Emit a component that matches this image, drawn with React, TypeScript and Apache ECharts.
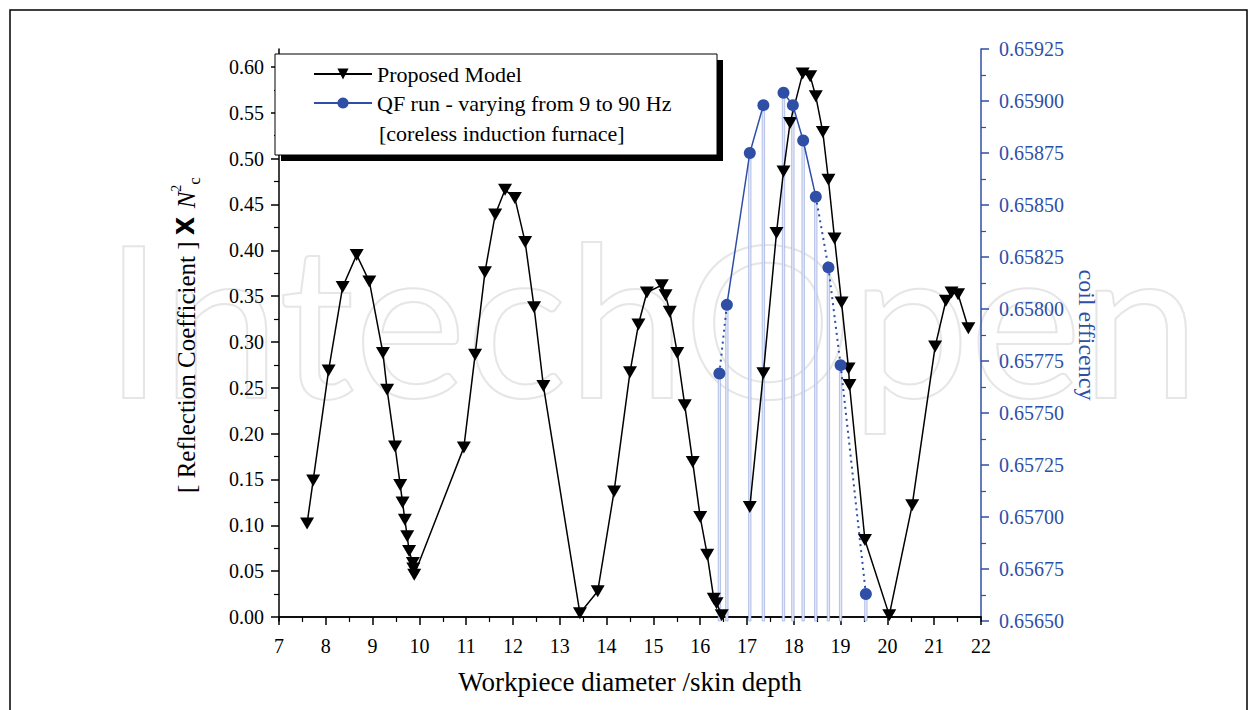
import React, { useEffect, useRef } from "react";
import * as echarts from "echarts";

// Proposed Model (two runs, the line is broken between them)
const modelX1 = [7.60, 7.73, 8.06, 8.36, 8.66, 8.93, 9.22, 9.31, 9.48, 9.59, 9.64, 9.69, 9.74, 9.78, 9.86, 9.87, 9.89, 10.95, 11.19, 11.40, 11.62, 11.83, 12.04, 12.26, 12.45, 12.65, 13.43, 13.81, 14.16, 14.50, 14.68, 14.86, 15.18, 15.26, 15.35, 15.51, 15.67, 15.84, 16.00, 16.15, 16.29, 16.35, 16.46];
const modelY1 = [0.102, 0.149, 0.269, 0.360, 0.395, 0.366, 0.288, 0.248, 0.186, 0.144, 0.125, 0.106, 0.088, 0.072, 0.059, 0.053, 0.046, 0.185, 0.286, 0.376, 0.439, 0.466, 0.457, 0.409, 0.338, 0.252, 0.004, 0.028, 0.137, 0.267, 0.319, 0.354, 0.362, 0.351, 0.333, 0.288, 0.231, 0.169, 0.109, 0.068, 0.020, 0.015, 0.002];
const modelX2 = [17.06, 17.35, 17.63, 17.78, 17.92, 18.19, 18.35, 18.47, 18.62, 18.74, 18.87, 19.02, 19.17, 19.19, 19.52, 20.04, 20.53, 21.02, 21.25, 21.37, 21.51, 21.73];
const modelY2 = [0.120, 0.266, 0.419, 0.486, 0.539, 0.593, 0.590, 0.568, 0.529, 0.477, 0.413, 0.343, 0.271, 0.253, 0.084, 0.002, 0.122, 0.295, 0.345, 0.354, 0.352, 0.315];

// QF run (coil efficiency, right axis)
const qfX = [16.41, 16.57, 17.06, 17.35, 17.78, 17.98, 18.20, 18.47, 18.74, 19.00, 19.54];
const qfY = [0.65769, 0.65802, 0.65875, 0.65898, 0.65904, 0.65898, 0.65881, 0.65854, 0.65820, 0.65773, 0.65663];
// line style of the segment that joins point i to point i+1
const qfSeg = ["dotted", "solid", "solid", "none", "solid", "solid", "solid", "dotted", "dotted", "dotted"];

const leftTicks = [0, 0.05, 0.1, 0.15, 0.2, 0.25, 0.3, 0.35, 0.4, 0.45, 0.5, 0.55, 0.6];
const leftMinorTicks = [0.025, 0.075, 0.125, 0.175, 0.225, 0.275, 0.325, 0.375, 0.425, 0.475, 0.525, 0.575];

const MODEL_NAME = "Proposed Model";
const QF_NAME = "QF run - varying from 9 to 90 Hz";
const LEGEND_EXTRA = "[coreless induction furnace]";

const FONT = "Liberation Serif";
const BLUE = "#2f4fa6";

export default function App() {
  const ref = useRef<HTMLDivElement>(null);

  useEffect(() => {
    document.body.style.margin = "0";
    if (!ref.current) return;
    const chart = echarts.init(ref.current, null, { renderer: "svg" });

    const model1 = modelX1.map((x, i) => [x, modelY1[i]]);
    const model2 = modelX2.map((x, i) => [x, modelY2[i]]);

    const qfSolid: any[] = [];
    qfX.forEach((x, i) => {
      qfSolid.push([x, qfY[i]]);
      if (i < qfX.length - 1 && qfSeg[i] !== "solid") qfSolid.push([x, null]);
    });
    const qfDotted: any[] = [];
    qfSeg.forEach((s, i) => {
      if (s === "dotted") {
        qfDotted.push([qfX[i], qfY[i]], [qfX[i + 1], qfY[i + 1]], [qfX[i + 1], null]);
      }
    });
    const qfPts = qfX.map((x, i) => [x, qfY[i]]);

    const yMin = -0.0044;
    const yMax = 0.6196;
    const rMin = 0.6565;

    chart.setOption({
      animation: false,
      backgroundColor: "#fff",
      textStyle: { fontFamily: FONT },
      grid: { left: 279, right: 276, top: 49, bottom: 89, containLabel: false },
      legend: {
        data: [MODEL_NAME, QF_NAME],
        orient: "vertical",
        left: 308,
        top: 58,
        itemWidth: 58,
        itemHeight: 14,
        itemGap: 7,
        z: 20,
        textStyle: { fontFamily: FONT, fontSize: 22, color: "#000" },
        selectedMode: false,
      },
      xAxis: [
        {
          type: "value",
          min: 7,
          max: 22,
          interval: 1,
          position: "bottom",
          name: "Workpiece diameter /skin depth",
          nameLocation: "middle",
          nameGap: 47,
          nameTextStyle: { fontFamily: FONT, fontSize: 27, color: "#000" },
          axisLine: { lineStyle: { color: "#000", width: 1.5 } },
          axisTick: { show: true, length: 8, lineStyle: { color: "#000", width: 1.5 } },
          minorTick: { show: true, splitNumber: 2, length: 5, lineStyle: { color: "#000", width: 1.2 } },
          axisLabel: { fontFamily: FONT, fontSize: 20, color: "#000", margin: 15 },
          splitLine: { show: false },
        },
        {
          type: "value",
          min: 7,
          max: 22,
          position: "top",
          axisLine: { lineStyle: { color: "#000", width: 1.5 } },
          axisTick: { show: false },
          axisLabel: { show: false },
          splitLine: { show: false },
        },
      ],
      yAxis: [
        {
          type: "value",
          position: "left",
          min: yMin,
          max: yMax,
          name: "{m|[ Reflection Coefficient ] }{x|X }{n|N}{sup|2}{sub|c}",
          nameLocation: "middle",
          nameRotate: 90,
          nameGap: 76,
          nameTextStyle: {
            rich: {
              m: { fontFamily: FONT, fontSize: 25, color: "#000", lineHeight: 34, verticalAlign: "middle" },
              x: { fontFamily: "DejaVu Sans", fontSize: 24, fontWeight: "bold", color: "#000", lineHeight: 34, verticalAlign: "middle" },
              n: { fontFamily: FONT, fontStyle: "italic", fontSize: 25, color: "#000", lineHeight: 34, verticalAlign: "middle" },
              sup: { fontFamily: FONT, fontSize: 14, color: "#000", lineHeight: 16, verticalAlign: "top" },
              sub: { fontFamily: FONT, fontSize: 17, color: "#000", lineHeight: 14, verticalAlign: "bottom" },
            },
          },
          axisLine: { show: true, lineStyle: { color: "#000", width: 1.5 } },
          axisTick: { show: true, customValues: leftTicks, length: 8, lineStyle: { color: "#000", width: 1.5 } },
          axisLabel: {
            customValues: leftTicks,
            formatter: (v: number) => v.toFixed(2),
            fontFamily: FONT,
            fontSize: 20,
            color: "#000",
            margin: 15,
          },
          splitLine: { show: false },
        },
        {
          type: "value",
          position: "right",
          min: rMin,
          max: 0.65925,
          interval: 0.00025,
          name: "coil efficency",
          nameLocation: "middle",
          nameRotate: -90,
          nameGap: 90,
          nameTextStyle: { fontFamily: FONT, fontSize: 24, color: BLUE },
          axisLine: { show: true, lineStyle: { color: BLUE, width: 1.5 } },
          axisTick: { show: true, length: 8, lineStyle: { color: BLUE, width: 1.5 } },
          minorTick: { show: true, splitNumber: 2, length: 5, lineStyle: { color: BLUE, width: 1.2 } },
          axisLabel: {
            formatter: (v: number) => v.toFixed(5),
            fontFamily: FONT,
            fontSize: 20,
            color: BLUE,
            margin: 18,
          },
          splitLine: { show: false },
        },
        {
          type: "value",
          position: "left",
          min: yMin,
          max: yMax,
          axisLine: { show: false },
          axisTick: { show: true, customValues: leftMinorTicks, length: 5, lineStyle: { color: "#000", width: 1.2 } },
          axisLabel: { show: false },
          splitLine: { show: false },
        },
      ],
      series: [
        {
          name: "drop",
          type: "custom",
          xAxisIndex: 0,
          yAxisIndex: 1,
          silent: true,
          z: 1,
          data: qfPts,
          renderItem: (params: any, api: any) => {
            const p = api.coord([api.value(0), api.value(1)]);
            const b = api.coord([api.value(0), rMin]);
            return {
              type: "rect",
              shape: { x: p[0] - 1.2, y: p[1], width: 2.4, height: b[1] - p[1] },
              style: { fill: "#e2e8f7", stroke: "#8ea0db", lineWidth: 0.6 },
            };
          },
        },
        {
          name: MODEL_NAME,
          type: "line",
          xAxisIndex: 0,
          yAxisIndex: 0,
          data: model1,
          symbol: "triangle",
          symbolRotate: 180,
          symbolSize: [14, 12],
          itemStyle: { color: "#000" },
          lineStyle: { color: "#000", width: 1.5 },
          z: 3,
        },
        {
          name: MODEL_NAME,
          type: "line",
          xAxisIndex: 0,
          yAxisIndex: 0,
          data: model2,
          symbol: "triangle",
          symbolRotate: 180,
          symbolSize: [14, 12],
          itemStyle: { color: "#000" },
          lineStyle: { color: "#000", width: 1.5 },
          z: 3,
        },
        {
          name: "qf-dotted",
          type: "line",
          xAxisIndex: 0,
          yAxisIndex: 1,
          data: qfDotted,
          symbol: "none",
          connectNulls: false,
          lineStyle: { color: BLUE, width: 2, type: [2, 4] },
          z: 4,
        },
        {
          name: QF_NAME,
          type: "line",
          xAxisIndex: 0,
          yAxisIndex: 1,
          data: qfSolid,
          connectNulls: false,
          symbol: "circle",
          symbolSize: 12,
          itemStyle: { color: BLUE },
          lineStyle: { color: BLUE, width: 1.5 },
          z: 5,
        },
      ],
      graphic: [
        {
          type: "text",
          silent: true,
          z: -1,
          style: {
            text: "IntechOpen",
            x: 652,
            y: 316,
            align: "center",
            verticalAlign: "middle",
            fontFamily: "Lato",
            fontSize: 212,
            fill: "rgba(0,0,0,0)",
            stroke: "#e6e6e6",
            lineWidth: 2,
          },
        },
        {
          type: "rect",
          silent: true,
          z: 10,
          shape: { x: 281, y: 60, width: 442, height: 101 },
          style: { fill: "#000" },
        },
        {
          type: "rect",
          silent: true,
          z: 11,
          shape: { x: 275, y: 54, width: 442, height: 101 },
          style: { fill: "#fff", stroke: "#000", lineWidth: 1 },
        },
        {
          type: "text",
          silent: true,
          z: 21,
          style: {
            text: LEGEND_EXTRA,
            x: 379,
            y: 133,
            verticalAlign: "middle",
            fontFamily: FONT,
            fontSize: 22,
            fill: "#000",
          },
        },
        {
          type: "rect",
          silent: true,
          z: 30,
          shape: { x: 10, y: 10, width: 1237, height: 720 },
          style: { fill: "rgba(0,0,0,0)", stroke: "#000", lineWidth: 1.5 },
        },
      ],
    });

    return () => chart.dispose();
  }, []);

  return <div ref={ref} style={{ width: 1257, height: 710 }} />;
}
